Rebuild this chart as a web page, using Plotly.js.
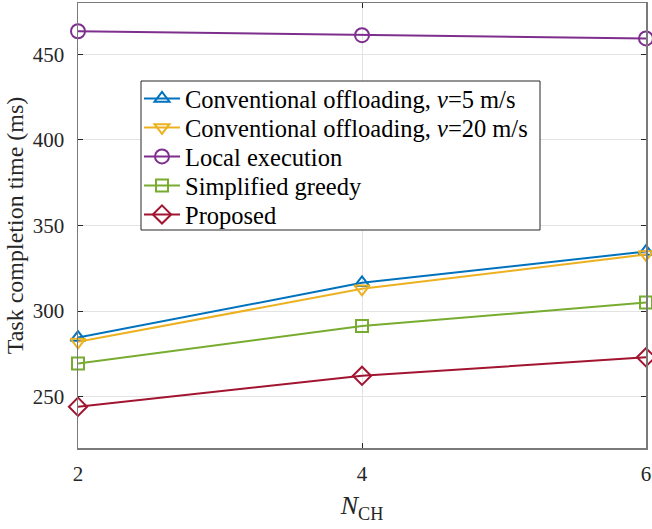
<!DOCTYPE html>
<html>
<head>
<meta charset="utf-8">
<script src="https://cdn.plot.ly/plotly-3.0.1.min.js"></script>
<style>html,body{margin:0;padding:0;background:#fff;}</style>
</head>
<body>
<div id="chart" style="width:652px;height:529px;"></div>
<script>
const nCH = [2, 4, 6];
const conv5 = [284.5, 316.5, 334.8];
const conv20 = [282, 313, 333.1];
const localExec = [463.5, 461.2, 459.3];
const greedy = [269.4, 291.3, 305];
const proposed = [244.1, 262.2, 273];

const names = [
  'Conventional offloading, <i>v</i>=5 m/s',
  'Conventional offloading, <i>v</i>=20 m/s',
  'Local execution',
  'Simplified greedy',
  'Proposed'
];
const colors = ['#0072BD', '#EDB120', '#7E2F8E', '#77AC30', '#A2142F'];
const symbols = ['triangle-up-open', 'triangle-down-open', 'circle-open', 'square-open', 'diamond-open'];
const sizes = [13, 13, 14, 12, 14];
const series = [conv5, conv20, localExec, greedy, proposed];
const legendIds = ['legend', 'legend2', 'legend3', 'legend4', 'legend5'];

const traces = series.map((ys, i) => ({
  x: nCH, y: ys, name: names[i], type: 'scatter', mode: 'lines+markers',
  legend: legendIds[i],
  line: {color: colors[i], width: 2},
  marker: {symbol: symbols[i], size: sizes[i], color: colors[i], line: {width: 2, color: colors[i]}},
  cliponaxis: false
}));

const FAM = 'Liberation Serif';

// plot area in pixels: top 3, bottom 448, left 78, right 646
const rowPix = [98.5, 127.5, 156.5, 185.5, 214.5];
const toPaperY = p => (448 - p) / 445;

const layout = {
  width: 652, height: 529,
  margin: {l: 78, r: 6, t: 3, b: 81, pad: 0},
  paper_bgcolor: '#fff', plot_bgcolor: '#fff',
  font: {family: FAM, size: 21, color: '#262626'},
  showlegend: true,
  shapes: [{
    type: 'rect', xref: 'paper', yref: 'paper',
    x0: (141 - 78) / 568, x1: (540 - 78) / 568,
    y0: toPaperY(230), y1: toPaperY(81),
    fillcolor: '#fff', line: {color: '#262626', width: 1}, layer: 'above'
  }],
  xaxis: {
    range: [2, 6], tickvals: [2, 4, 6], ticktext: ['2', '4', '6'],
    ticks: 'inside', ticklen: 5, tickcolor: '#262626', tickwidth: 1,
    showline: true, linecolor: '#7a7a7a', linewidth: 1.5, mirror: 'ticks',
    showgrid: true, gridcolor: '#e3e3e3', gridwidth: 1, zeroline: false,
    tickfont: {family: FAM, size: 21, color: '#262626'},
    ticklabelstandoff: 6,
    title: {text: '<i>N</i><sub>CH</sub>', font: {family: FAM, size: 26, color: '#262626'}, standoff: 11}
  },
  yaxis: {
    range: [220, 480], tickvals: [250, 300, 350, 400, 450],
    ticks: 'inside', ticklen: 5, tickcolor: '#262626', tickwidth: 1,
    showline: true, linecolor: '#7a7a7a', linewidth: 1.5, mirror: 'ticks',
    showgrid: true, gridcolor: '#e3e3e3', gridwidth: 1, zeroline: false,
    tickfont: {family: FAM, size: 21, color: '#262626'},
    ticklabelstandoff: 8,
    title: {text: 'Task completion time (ms)', font: {family: FAM, size: 24, color: '#262626'}, standoff: 2}
  }
};

legendIds.forEach((id, i) => {
  layout[id] = {
    x: (139 - 78) / 568, y: toPaperY(rowPix[i]), xanchor: 'left', yanchor: 'middle',
    bgcolor: 'rgba(0,0,0,0)', borderwidth: 0,
    font: {family: FAM, size: 24.5, color: '#000'},
    itemwidth: 36
  };
});

Plotly.newPlot('chart', traces, layout, {displayModeBar: false, staticPlot: true});
</script>
</body>
</html>
